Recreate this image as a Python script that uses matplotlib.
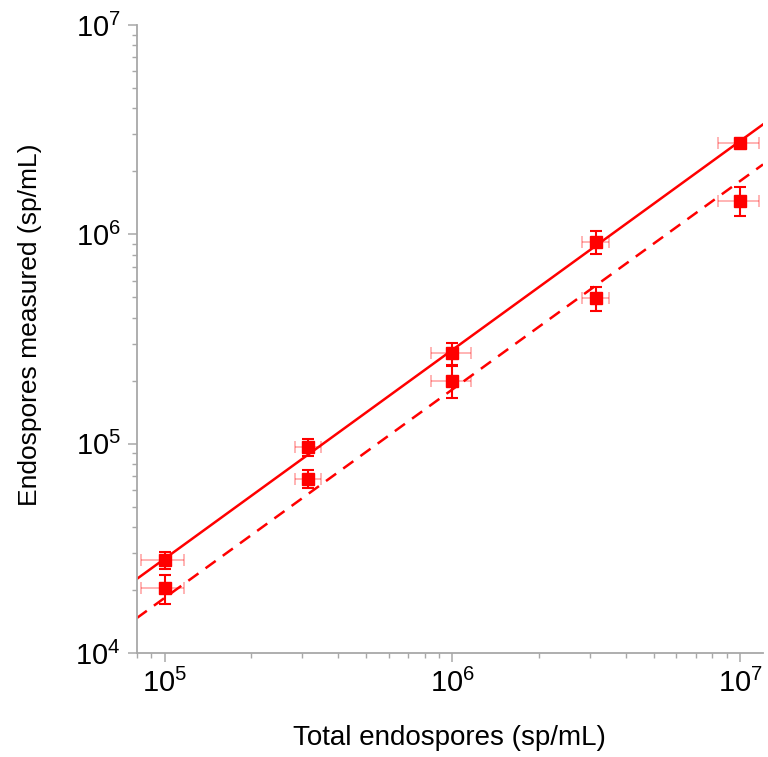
"""
Endospores measured vs total endospores, log-log with fit lines.
"""
import matplotlib
matplotlib.use("Agg")
import matplotlib.pyplot as plt
import numpy as np

plt.rcParams["font.family"] = ["Liberation Sans", "DejaVu Sans"]
plt.rcParams["mathtext.fontset"] = "custom"
plt.rcParams["mathtext.rm"] = "Liberation Sans"
plt.rcParams["mathtext.it"] = "Liberation Sans"
plt.rcParams["mathtext.default"] = "regular"

# -- data ----------------------------------------------------------------------
total = [1e5, 3.16e5, 1e6, 3.16e6, 1e7]
total_err = [1.7e4, 3.3e4, 1.6e5, 3.3e5, 1.6e6]

measured_a = [2.78e4, 9.6e4, 2.7e5, 9.2e5, 2.72e6]
measured_a_err = [2.5e3, 9e3, 3.2e4, 1.15e5, 1.2e5]

measured_b = [2.04e4, 6.8e4, 2.0e5, 4.94e5, 1.45e6]
measured_b_err = [3.3e3, 6.8e3, 3.4e4, 6.5e4, 2.3e5]

# fit lines: log10(y) = slope * log10(x) + intercept
fit_a = (0.998, -0.540)
fit_b = (0.996, -0.717)

XLIM = (8.0e4, 1.2e7)
YLIM = (1e4, 1e7)
RED = "#ff0000"
GREY = "#a8a8a8"

fig = plt.figure(figsize=(7.68, 7.57), dpi=100)
ax = fig.add_axes([0.178, 0.1374, 0.8155, 0.8296])

for y, yerr in [(measured_a, measured_a_err), (measured_b, measured_b_err)]:
    ax.errorbar(total, y, xerr=total_err, fmt="none", ecolor=RED, alpha=0.35,
                elinewidth=1.2, capsize=4, capthick=1.2, zorder=2)
    ax.errorbar(total, y, yerr=yerr, fmt="s", color=RED, ms=9,
                ecolor=RED, elinewidth=1.5, capsize=4, capthick=1.5, zorder=3)

xs = np.array(XLIM)
for (slope, icpt), ls in [(fit_a, "-"), (fit_b, (0, (5, 3.5)))]:
    ax.plot(xs, 10 ** (slope * np.log10(xs) + icpt), color=RED, lw=1.8,
            ls=ls, zorder=2)

ax.set_xscale("log")
ax.set_yscale("log")
ax.set_xlim(*XLIM)
ax.set_ylim(*YLIM)

for side in ["top", "right"]:
    ax.spines[side].set_visible(False)
for side in ["left", "bottom"]:
    ax.spines[side].set_color(GREY)
    ax.spines[side].set_linewidth(1.3)

ax.tick_params(which="major", length=6.5, width=1.1, color=GREY,
               labelsize=21, labelcolor="black", pad=5)
ax.tick_params(which="minor", length=3.6, width=1.0, color=GREY)

ax.set_xlabel("Total endospores (sp/mL)", fontsize=20)
ax.set_ylabel("Endospores measured (sp/mL)", fontsize=19)
ax.xaxis.set_label_coords(0.5, -0.115)
ax.yaxis.set_label_coords(-0.152, 0.522)

plt.savefig("out.png", dpi=100, facecolor="white")
plt.close()
